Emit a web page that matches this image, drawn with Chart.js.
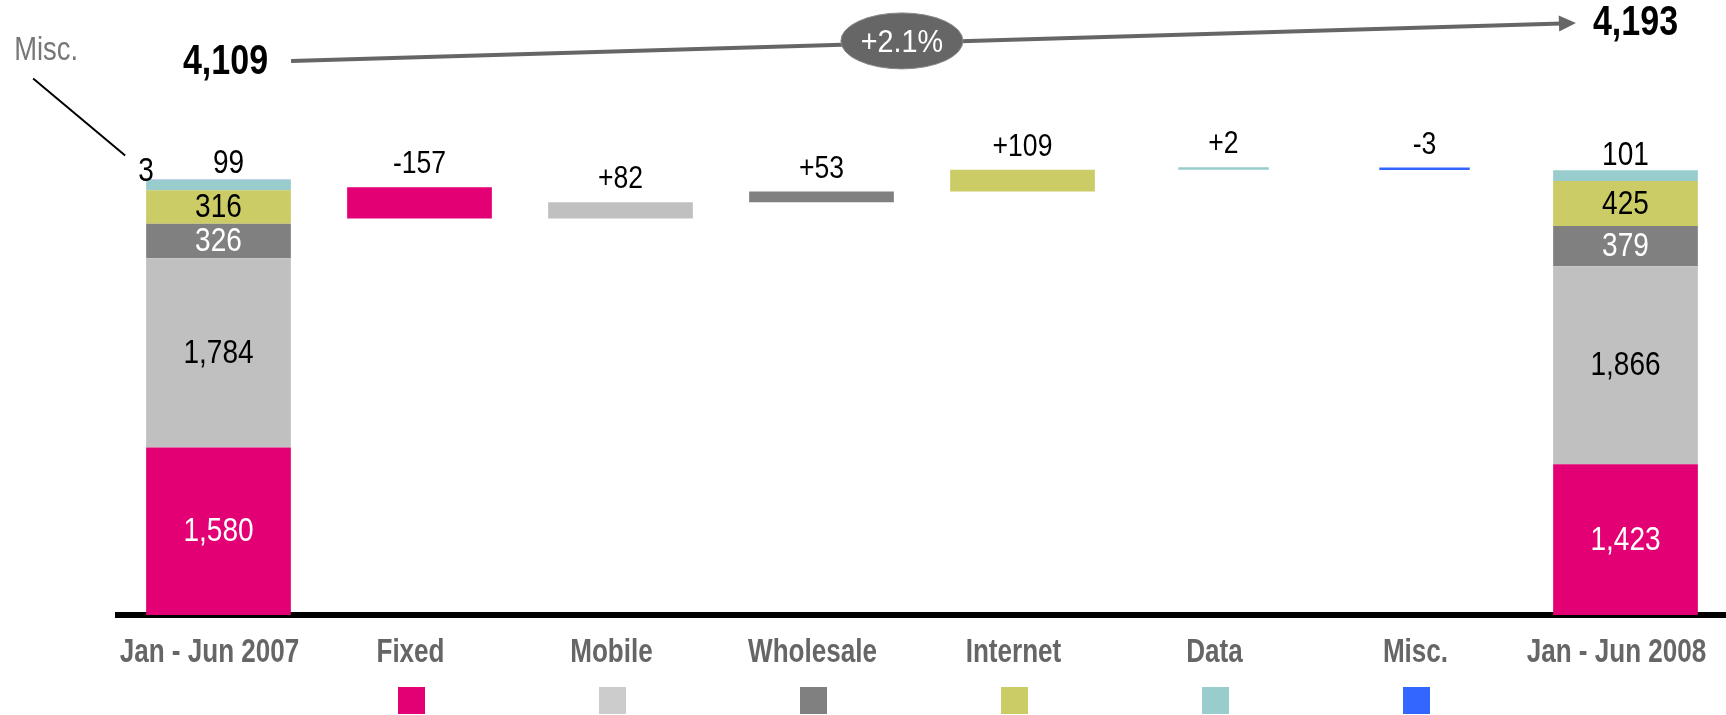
<!DOCTYPE html>
<html>
<head>
<meta charset="utf-8">
<script src="https://cdn.jsdelivr.net/npm/chart.js@4.4.1/dist/chart.umd.min.js"></script>
<style>
  html, body { margin: 0; padding: 0; background: #fff; }
  canvas { display: block; }
</style>
</head>
<body>
<canvas id="bridge" width="1726" height="715"></canvas>
<script>
// Revenue bridge H1 2007 -> H1 2008, by business line
const categories = ["Jan - Jun 2007", "Fixed", "Mobile", "Wholesale", "Internet", "Data", "Misc.", "Jan - Jun 2008"];
const segments = ["Fixed", "Mobile", "Wholesale", "Internet", "Data", "Misc."];
const total2007 = [1580, 1784, 326, 316, 99, 3];
const total2008 = [1423, 1866, 379, 425, 101, null];
const changes = [-157, 82, 53, 109, 2, -3];
const openingTotal = 4109;
const closingTotal = 4193;
const growthLabel = "+2.1%";

const segmentColors = ["#E20074", "#C0C0C0", "#808080", "#CCCC66", "#99CCCC", "#3366FF"];
const swatchColors = ["#E20074", "#CCCCCC", "#808080", "#CCCC66", "#99CCCC", "#3366FF"];
const insideTextColors = ["#fff", "#000", "#fff", "#000", "#000", "#000"];

// no narrow face installed, so text is squeezed horizontally instead
const FONT = "'Liberation Sans', Arial, sans-serif";

const fmt = (v) => v.toLocaleString("en-US");
const signed = (v) => (v > 0 ? "+" : "") + v;

function narrowText(ctx, text, x, y, opts) {
  const { size = 33, weight = "normal", color = "#000", squeeze = 0.85, baseline = "alphabetic" } = opts || {};
  ctx.save();
  ctx.font = `${weight} ${size}px ${FONT}`;
  ctx.fillStyle = color;
  ctx.textAlign = "center";
  ctx.textBaseline = baseline;
  ctx.translate(x, y);
  ctx.scale(squeeze, 1);
  ctx.fillText(text, 0, 0);
  const w = ctx.measureText(text).width * squeeze;
  ctx.restore();
  return w;
}

// floating [from, to] ranges for the bridge steps
const bridgeRanges = [];
let level = openingTotal;
changes.forEach((c) => {
  bridgeRanges.push([level, level + c]);
  level += c;
});

const lastIdx = categories.length - 1;
const totalDatasets = segments.map((name, i) => ({
  label: name,
  data: categories.map((_, idx) => (idx === 0 ? total2007[i] : idx === lastIdx ? total2008[i] : null)),
  backgroundColor: segmentColors[i],
  yAxisID: "y",
  stack: "totals",
  grouped: false,
  barPercentage: 0.72,
  categoryPercentage: 1,
}));

// big steps get a full bar, the tiny ones a thin line
const bigSteps = categories.map((_, idx) => (idx >= 1 && idx <= 4 ? bridgeRanges[idx - 1] : null));
const smallSteps = categories.map((_, idx) => (idx >= 5 && idx <= 6 ? bridgeRanges[idx - 1] : null));
const stepColors = categories.map((_, idx) => (idx >= 1 && idx <= 6 ? segmentColors[idx - 1] : "#000"));

// the steps use their own, stretched value axis (y2) so they stay readable
const bridgeDatasets = [
  { label: "steps", data: bigSteps, backgroundColor: stepColors, yAxisID: "y2",
    grouped: false, barPercentage: 0.72, categoryPercentage: 1 },
  { label: "steps-small", data: smallSteps, backgroundColor: stepColors, yAxisID: "y2",
    grouped: false, barPercentage: 0.45, categoryPercentage: 1, minBarLength: 2.5 },
];

const LABEL_SHIFT = -9; // category names and keys sit a little left of the bars

const annotations = {
  id: "annotations",
  afterDatasetsDraw(chart) {
    const ctx = chart.ctx;
    const xs = chart.scales.x;
    const area = chart.chartArea;

    // value labels on the two stacked totals
    [0, lastIdx].forEach((idx) => {
      let stackTop = Infinity, left = 0, cx = 0;
      segments.forEach((_, i) => {
        const el = chart.getDatasetMeta(i).data[idx];
        if (chart.data.datasets[i].data[idx] == null || !el) return;
        stackTop = Math.min(stackTop, el.y);
        left = el.x - el.width / 2;
        cx = el.x;
      });
      segments.forEach((_, i) => {
        const el = chart.getDatasetMeta(i).data[idx];
        const v = chart.data.datasets[i].data[idx];
        if (v == null || !el) return;
        if (i === 4) {
          const hasMisc = chart.data.datasets[5].data[idx] != null;
          narrowText(ctx, fmt(v), cx + (hasMisc ? 10 : 0), stackTop - (hasMisc ? 6 : 5));
        } else if (i === 5) {
          narrowText(ctx, fmt(v), left, stackTop + 2);
          // leader line up to the category name
          ctx.save();
          ctx.strokeStyle = "#000";
          ctx.lineWidth = 2;
          ctx.beginPath();
          ctx.moveTo(left - 21, stackTop - 24);
          ctx.lineTo(left - 113, stackTop - 101);
          ctx.stroke();
          ctx.restore();
          narrowText(ctx, segments[5], left - 100, stackTop - 129, { color: "#777", baseline: "middle", squeeze: 0.83 });
        } else {
          narrowText(ctx, fmt(v), el.x, (el.y + el.base) / 2 + 1, { color: insideTextColors[i], baseline: "middle" });
        }
      });
    });

    // change labels above the bridge steps
    [6, 7].forEach((di) => {
      const meta = chart.getDatasetMeta(di);
      chart.data.datasets[di].data.forEach((r, idx) => {
        if (!r) return;
        const el = meta.data[idx];
        const top = Math.min(el.y, el.base);
        narrowText(ctx, signed(changes[idx - 1]), el.x, top - 14, { size: 32, squeeze: 0.83 });
      });
    });

    // category names and colour keys
    categories.forEach((name, idx) => {
      const x = xs.getPixelForValue(idx) + LABEL_SHIFT;
      narrowText(ctx, name, x, area.bottom + 47, { weight: "bold", color: "#666", squeeze: 0.79 });
      if (idx >= 1 && idx <= 6) {
        ctx.fillStyle = swatchColors[idx - 1];
        ctx.fillRect(Math.round(x - 13), area.bottom + 72, 27, 27);
      }
    });

    // growth arrow between the two totals
    const lx = xs.getPixelForValue(0) + 7, ly = 62;
    const rx = xs.getPixelForValue(lastIdx) + 10, ry = 23;
    const big = { size: 42, weight: "bold", squeeze: 0.81, baseline: "middle" };
    const lw = narrowText(ctx, fmt(openingTotal), lx, ly, big);
    const rw = narrowText(ctx, fmt(closingTotal), rx, ry, big);
    const x0 = lx + lw / 2 + 23, y0 = 61;
    const x1 = rx - rw / 2 - 17, y1 = 23;
    ctx.save();
    ctx.strokeStyle = "#666";
    ctx.fillStyle = "#666";
    ctx.lineWidth = 4;
    ctx.beginPath();
    ctx.moveTo(x0, y0);
    ctx.lineTo(x1 - 14, y1 + (y0 - y1) * 14 / (x1 - x0));
    ctx.stroke();
    const ang = Math.atan2(y1 - y0, x1 - x0);
    ctx.beginPath();
    ctx.moveTo(x1, y1);
    ctx.lineTo(x1 - 17 * Math.cos(ang) + 8 * Math.sin(ang), y1 - 17 * Math.sin(ang) - 8 * Math.cos(ang));
    ctx.lineTo(x1 - 17 * Math.cos(ang) - 8 * Math.sin(ang), y1 - 17 * Math.sin(ang) + 8 * Math.cos(ang));
    ctx.closePath();
    ctx.fill();

    const ex = xs.getPixelForValue(3.4);
    const ey = y0 + (y1 - y0) * (ex - x0) / (x1 - x0) - 2;
    ctx.beginPath();
    ctx.ellipse(ex, ey, 61, 28, 0, 0, Math.PI * 2);
    ctx.fillStyle = "#666";
    ctx.fill();
    ctx.strokeStyle = "#888";
    ctx.lineWidth = 1;
    ctx.stroke();
    ctx.restore();
    narrowText(ctx, growthLabel, ex, ey + 2, { size: 32, color: "#fff", squeeze: 0.9, baseline: "middle" });
  },
};

new Chart(document.getElementById("bridge"), {
  type: "bar",
  data: { labels: categories, datasets: [...totalDatasets, ...bridgeDatasets] },
  options: {
    responsive: false,
    animation: false,
    layout: { padding: { top: 34, left: 118, right: 0, bottom: 0 } },
    plugins: { legend: { display: false }, tooltip: { enabled: false } },
    scales: {
      x: {
        grid: { display: false },
        border: { display: true, color: "#000", width: 6 },
        ticks: { display: false },
        afterFit(scale) { scale.height = 100; },
      },
      y: { display: false, stacked: true, min: 0, max: 5480 },
      y2: { display: false, stacked: false, min: 1970, max: 4875 },
    },
  },
  plugins: [annotations],
});
</script>
</body>
</html>
